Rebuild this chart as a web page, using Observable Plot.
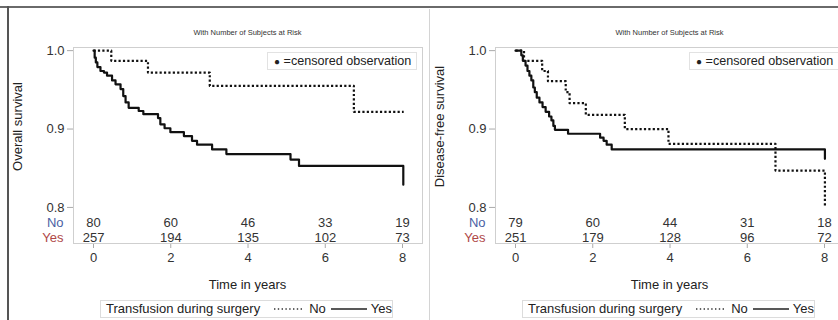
<!DOCTYPE html>
<html><head><meta charset="utf-8">
<script src="https://cdn.jsdelivr.net/npm/d3@7"></script>
<script src="https://cdn.jsdelivr.net/npm/@observablehq/plot@0.6"></script>
<style>
html,body{margin:0;padding:0;background:#fff;overflow:hidden;}
#root{position:relative;width:838px;height:320px;overflow:hidden;font-family:"Liberation Sans",Arial,sans-serif;color:#222;}
.abs{position:absolute;}
.panel{position:absolute;top:0;width:430px;height:320px;}
.panel svg{overflow:visible;max-width:none !important;}
g[aria-label="y-axis tick"] path, g[aria-label="x-axis tick"] path{stroke:#aaa;}
.title{position:absolute;top:28px;font-size:7.5px;text-align:center;color:#333;}
.ylab{position:absolute;width:200px;text-align:center;font-size:13px;transform:rotate(-90deg);color:#222;}
.xlab{position:absolute;top:277px;font-size:13px;text-align:center;color:#222;}
.cens{position:absolute;top:52px;height:18px;border:1px solid #e2e2e2;background:#fff;font-size:12.6px;line-height:16px;box-sizing:border-box;padding-left:6px;color:#222;white-space:nowrap;}
.leg{position:absolute;top:300px;height:18px;border:1px solid #dcdcdc;box-sizing:border-box;font-size:13px;line-height:16px;display:flex;align-items:center;padding-left:5px;white-space:nowrap;color:#222;}
.leg svg{margin:0 4px;}
</style></head><body><div id="root"></div><script>
// ---- data ----
const timeTicks = [0, 2, 4, 6, 8];
const yTicks = [0.8, 0.9, 1.0];
const groups = ["No", "Yes"];

// Overall survival (left panel)
const osNoTime = [0, 0.46, 1.41, 3.01, 6.74, 8.03];
const osNoSurv = [1.0, 0.987, 0.972, 0.955, 0.922, 0.922];
const osYesTime = [0, 0.03, 0.06, 0.1, 0.18, 0.27, 0.35, 0.48, 0.57, 0.70, 0.77, 0.83, 0.91, 1.17, 1.29, 1.67, 1.73, 1.84, 1.99, 2.34, 2.55, 2.68, 3.07, 3.44, 5.10, 5.32, 8.02];
const osYesSurv = [1.0, 0.991, 0.985, 0.979, 0.974, 0.972, 0.968, 0.962, 0.957, 0.951, 0.942, 0.934, 0.927, 0.923, 0.919, 0.914, 0.906, 0.901, 0.896, 0.891, 0.885, 0.880, 0.874, 0.868, 0.861, 0.853, 0.829];
const osRiskNo = [80, 60, 46, 33, 19];
const osRiskYes = [257, 194, 135, 102, 73];

// Disease-free survival (right panel)
const dfsNoTime = [0, 0.22, 0.69, 0.84, 1.30, 1.40, 1.82, 2.83, 3.96, 6.73, 8.01];
const dfsNoSurv = [1.0, 0.987, 0.974, 0.961, 0.947, 0.933, 0.918, 0.900, 0.881, 0.847, 0.802];
const dfsYesTime = [0, 0.15, 0.19, 0.26, 0.31, 0.36, 0.41, 0.46, 0.50, 0.55, 0.62, 0.70, 0.78, 0.87, 0.93, 0.98, 1.02, 1.36, 2.19, 2.28, 2.36, 2.49, 8.01];
const dfsYesSurv = [1.0, 0.994, 0.987, 0.981, 0.974, 0.968, 0.962, 0.953, 0.947, 0.940, 0.934, 0.928, 0.922, 0.916, 0.911, 0.904, 0.899, 0.894, 0.889, 0.885, 0.880, 0.874, 0.862];
const dfsRiskNo = [79, 60, 44, 31, 18];
const dfsRiskYes = [251, 179, 128, 96, 72];

const titleText = "With Number of Subjects at Risk";
const xLabel = "Time in years";
const censLabel = "=censored observation";
const legendTitle = "Transfusion during surgery";
const noColor = "#4a5fa3";
const yesColor = "#b04848";

// ---- build ----
const root = document.getElementById("root");
const zip = (t, s) => t.map((v, i) => ({t: v, s: s[i]}));

function panel(cfg) {
  const risk = timeTicks.map((t, i) => ({t, no: cfg.riskNo[i], yes: cfg.riskYes[i]}));
  const txt = {frameAnchor: "bottom", lineAnchor: "middle", fontSize: 13};
  const plot = Plot.plot({
    width: 430, height: 320,
    marginLeft: 73, marginRight: 8, marginTop: 47, marginBottom: 77,
    style: {fontFamily: "Liberation Sans, Arial, sans-serif", fontSize: "13px", color: "#333", background: "transparent", overflow: "visible"},
    x: {domain: [-0.518, 8.517], ticks: timeTicks, tickSize: 5, tickPadding: 4, label: null},
    y: {domain: [0.754, 1.004], ticks: yTicks, tickFormat: ".1f", tickSize: 6, tickPadding: 3, label: null},
    marks: [
      Plot.frame({stroke: "#cfcfcf"}),
      Plot.line(zip(cfg.noTime, cfg.noSurv), {x: "t", y: "s", curve: "step-after", stroke: "#111", strokeWidth: 2.2, strokeDasharray: "2.2,2.2", strokeLinecap: "butt"}),
      Plot.line(zip(cfg.yesTime, cfg.yesSurv), {x: "t", y: "s", curve: "step-after", stroke: "#111", strokeWidth: 2.2}),
      Plot.text(risk, {...txt, x: "t", text: "no", dy: -21, fill: "#333"}),
      Plot.text(risk, {...txt, x: "t", text: "yes", dy: -6, fill: "#333"}),
      Plot.text([groups[0]], {...txt, text: d => d, frameAnchor: "bottom-left", dx: -10, dy: -21, textAnchor: "end", fill: noColor}),
      Plot.text([groups[1]], {...txt, text: d => d, frameAnchor: "bottom-left", dx: -10, dy: -6, textAnchor: "end", fill: yesColor})
    ]
  });
  const wrap = document.createElement("div");
  wrap.className = "panel";
  wrap.style.left = cfg.left + "px";
  wrap.appendChild(plot);
  root.appendChild(wrap);

  const fl = cfg.left + 73, fw = 349;
  const add = (cls, html, css) => { const d = document.createElement("div"); d.className = cls; d.innerHTML = html; Object.assign(d.style, css); root.appendChild(d); return d; };
  add("title", titleText, {left: fl + "px", width: fw + "px"});
  add("ylab", cfg.ylabel, {left: (cfg.left + 17 - 100) + "px", top: "119px"});
  add("xlab", xLabel, {left: fl + "px", width: fw + "px"});
  add("cens", "<span style='font-size:10px'>&#9679;</span> " + censLabel, {left: (fl + 194) + "px", width: "150px"});
  add("leg", legendTitle +
    "<svg width='34' height='4' style='margin-left:12px'><line x1='2' y1='2' x2='31' y2='2' stroke='#333' stroke-width='1.4' stroke-dasharray='1.4,2.4'/></svg>" + groups[0] +
    "<svg width='38' height='4'><line x1='1' y1='2' x2='37' y2='2' stroke='#222' stroke-width='1.6'/></svg>" + groups[1],
    {left: (fl + 27) + "px", width: "293px"});
}

panel({left: 0, ylabel: "Overall survival", noTime: osNoTime, noSurv: osNoSurv, yesTime: osYesTime, yesSurv: osYesSurv, riskNo: osRiskNo, riskYes: osRiskYes});
panel({left: 422, ylabel: "Disease-free survival", noTime: dfsNoTime, noSurv: dfsNoSurv, yesTime: dfsYesTime, yesSurv: dfsYesSurv, riskNo: dfsRiskNo, riskYes: dfsRiskYes});

// panel borders
const line = (css) => { const d = document.createElement("div"); d.className = "abs"; Object.assign(d.style, css); root.appendChild(d); };
line({left: "0px", top: "6px", width: "838px", height: "2px", background: "#6a6a6a"});
line({left: "7px", top: "6px", width: "2px", height: "314px", background: "#555"});
line({left: "429px", top: "9px", width: "1px", height: "311px", background: "#d4d4d4"});
</script></body></html>
